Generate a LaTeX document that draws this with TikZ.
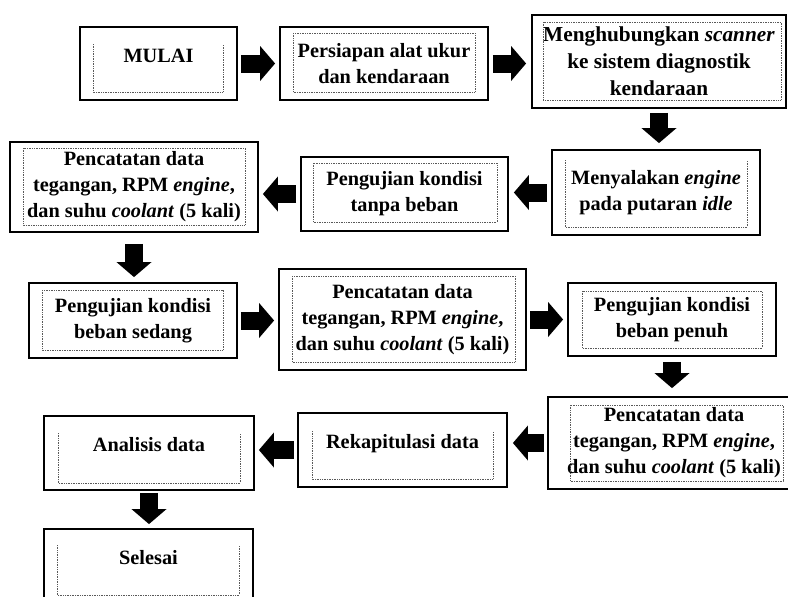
\documentclass[tikz,border=0pt]{standalone}
\usepackage{fontspec}
\setmainfont{Liberation Serif}
\usetikzlibrary{arrows.meta,calc}
\begin{document}
\begin{tikzpicture}[x=1pt,y=-1pt,
  box/.style={draw, line width=1.8pt, inner sep=0pt, align=center,
    font=\fontsize{20.3}{26}\selectfont\bfseries},
  bigtxt/.style={font=\fontsize{21.3}{27}\selectfont\bfseries},
  onel/.style={text height=12pt, text depth=15pt},
  dot/.style={line width=0.7pt, densely dotted, black!65},
  blk/.style={line width=18pt, -{Triangle[width=35pt,length=15pt,line width=0pt]}}
]
\useasboundingbox (0,0) rectangle (788,597);

% boxes
\node[box, onel, minimum width=157pt, minimum height=73pt] (n1) at (158.5,63.5) {MULAI};
\node[box, minimum width=208pt, minimum height=73pt] (n2) at (384,63.5) {Persiapan alat ukur\\dan kendaraan};
\node[box, bigtxt, minimum width=254pt, minimum height=93pt] (n3) at (659,61.5) {Menghubungkan \textit{scanner}\\ke sistem diagnostik\\kendaraan};
\node[box, minimum width=208pt, minimum height=85pt] (n4) at (656,192.5) {Menyalakan \textit{engine}\\pada putaran \textit{idle}};
\node[box, minimum width=207pt, minimum height=74pt] (n5) at (404.5,194) {Pengujian kondisi\\tanpa beban};
\node[box, minimum width=248pt, minimum height=90pt] (n6) at (134,187) {Pencatatan data\\tegangan, RPM \textit{engine},\\dan suhu \textit{coolant} (5 kali)};
\node[box, minimum width=208pt, minimum height=75pt] (n7) at (133,320.5) {Pengujian kondisi\\beban sedang};
\node[box, minimum width=247pt, minimum height=101pt] (n8) at (402.5,319.5) {Pencatatan data\\tegangan, RPM \textit{engine},\\dan suhu \textit{coolant} (5 kali)};
\node[box, minimum width=208pt, minimum height=73pt] (n9) at (672,319.5) {Pengujian kondisi\\beban penuh};
\node[box, minimum width=252pt, minimum height=92pt] (n10) at (674,443) {Pencatatan data\\tegangan, RPM \textit{engine},\\dan suhu \textit{coolant} (5 kali)};
\node[box, onel, minimum width=209pt, minimum height=74pt] (n11) at (402.5,450) {Rekapitulasi data};
\node[box, onel, minimum width=210pt, minimum height=74pt] (n12) at (149,453) {Analisis data};
\node[box, onel, minimum width=209pt, minimum height=74pt] (n13) at (148.5,566) {Selesai};

% inner dotted frames
\draw[dot] (293,33) rectangle (475,92);
\draw[dot] (543,22) rectangle (781,100);
\draw[dot] (23,148) rectangle (245,225);
\draw[dot] (313,163) rectangle (497,222);
\draw[dot] (42,290) rectangle (223,350);
\draw[dot] (292,276) rectangle (515,362);
\draw[dot] (582,291) rectangle (762,348);
\draw[dot] (570,405) rectangle (783,481);
\draw[dot] (93,44) -- (93,92) -- (223,92) -- (223,44);
\draw[dot] (565,160) -- (565,227) -- (747,227) -- (747,160);
\draw[dot] (312,431) -- (312,479) -- (493,479) -- (493,431);
\draw[dot] (58,433) -- (58,483) -- (240,483) -- (240,433);
\draw[dot] (57,545) -- (57,595) -- (239,595) -- (239,545);

% block arrows
\draw[blk, shorten <=3pt, shorten >=4pt] (n1.east) -- (n1.east -| n2.west);
\draw[blk, shorten <=4pt, shorten >=5pt] (n2.east) -- (n2.east -| n3.west);
\draw[blk, shorten <=4pt, shorten >=6pt] (n3.south) -- (n3.south |- n4.north);
\draw[blk, shorten <=4pt, shorten >=5pt] (n4.west) -- (n4.west -| n5.east);
\draw[blk, shorten <=4pt, shorten >=4pt] (n5.west) -- (n5.west -| n6.east);
\draw[blk, shorten <=11pt, shorten >=5pt] (n6.south) -- (n6.south |- n7.north);
\draw[blk, shorten <=3pt, shorten >=4pt] (n7.east) -- (n7.east -| n8.west);
\draw[blk, shorten <=3pt, shorten >=4pt] (n8.east) -- (n8.east -| n9.west);
\draw[blk, shorten <=5pt, shorten >=8pt] (n9.south) -- (n9.south |- n10.north);
\draw[blk, shorten <=3pt, shorten >=5pt] (n10.west) -- (n10.west -| n11.east);
\draw[blk, shorten <=3pt, shorten >=4pt] (n11.west) -- (n11.west -| n12.east);
\draw[blk, shorten <=2pt, shorten >=4pt] (n12.south) -- (n12.south |- n13.north);
\end{tikzpicture}
\end{document}
